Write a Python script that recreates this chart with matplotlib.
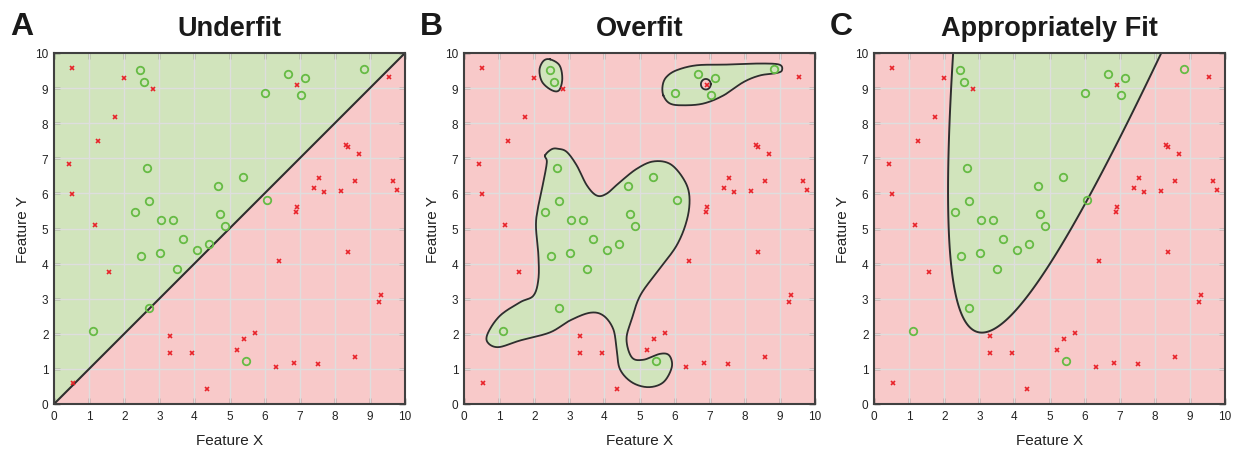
import numpy as np
import matplotlib
matplotlib.use("Agg")
import matplotlib.pyplot as plt

plt.rcParams['font.family'] = ['Liberation Sans', 'DejaVu Sans']

# ---------------- data ----------------
green_x = [2.45, 2.55, 2.65, 2.71, 2.31, 3.05, 3.40, 3.68, 4.07, 4.42, 3.02, 2.48, 3.51,
           2.71, 1.12, 5.48, 4.66, 5.38, 4.73, 4.88, 6.06, 6.01, 6.68, 7.15, 7.05, 8.84]
green_y = [9.52, 9.16, 6.73, 5.77, 5.47, 5.23, 5.23, 4.70, 4.40, 4.55, 4.31, 4.21, 3.85,
           2.74, 2.07, 1.23, 6.22, 6.48, 5.40, 5.07, 5.80, 8.86, 9.39, 9.30, 8.80, 9.54]

red_x = [0.50, 2.00, 2.83, 1.75, 1.25, 0.44, 0.50, 1.18, 1.57, 0.55, 3.31, 3.30, 3.94,
         4.37, 5.20, 5.42, 5.72, 6.33, 6.83, 7.53, 8.57, 6.41, 6.91, 6.93, 6.90, 7.41,
         7.54, 7.68, 8.18, 8.31, 8.39, 8.70, 8.58, 8.39, 9.25, 9.33, 9.53, 9.67, 9.78]
red_y = [9.58, 9.29, 8.98, 8.18, 7.49, 6.83, 5.99, 5.10, 3.76, 0.60, 1.94, 1.44, 1.44,
         0.44, 1.55, 1.86, 2.01, 1.04, 1.16, 1.13, 1.33, 4.07, 9.09, 5.61, 5.47, 6.15,
         6.45, 6.04, 6.07, 7.39, 7.32, 7.11, 6.36, 4.33, 2.92, 3.11, 9.32, 6.35, 6.09]

titles = ["Underfit", "Overfit", "Appropriately Fit"]
letters = ["A", "B", "C"]
ticks = list(range(0, 11))

# Overfit boundary (traced outline points)
blob_big_x = [2.31, 2.36, 2.26, 2.12, 2.05, 2.12, 2.12, 1.98, 1.60, 1.03, 0.69, 0.67, 0.98,
              1.60, 2.45, 3.02, 3.59, 3.97, 4.25, 4.35, 4.44, 4.78, 5.25, 5.68, 5.92, 5.85,
              5.59, 5.11, 4.78, 4.63, 4.78, 5.02, 5.49, 6.06, 6.36, 6.42, 6.25, 5.87, 5.39,
              4.92, 4.44, 4.06, 3.78, 3.50, 3.21, 2.93, 2.69, 2.50]
blob_big_y = [7.08, 6.89, 6.32, 5.66, 5.09, 4.23, 3.56, 3.09, 2.90, 2.52, 2.04, 1.76, 1.62,
              1.81, 2.04, 2.38, 2.60, 2.52, 2.14, 1.57, 1.00, 0.62, 0.48, 0.62, 1.05, 1.38,
              1.43, 1.26, 1.33, 1.85, 2.42, 3.09, 3.75, 4.52, 5.28, 5.94, 6.42, 6.84, 6.91,
              6.70, 6.32, 5.99, 5.94, 6.23, 6.80, 7.18, 7.27, 7.26]
blob_small_x = [2.45, 2.72, 2.80, 2.71, 2.50, 2.23, 2.15, 2.26]
blob_small_y = [9.82, 9.65, 9.27, 8.94, 8.94, 9.17, 9.51, 9.77]
blob_top_x = [5.68, 5.66, 5.77, 6.06, 6.63, 7.48, 8.43, 8.98, 9.06, 8.91, 8.43, 7.96, 7.39,
              6.82, 6.25, 5.87]
blob_top_y = [8.79, 9.08, 9.32, 9.51, 9.65, 9.67, 9.70, 9.67, 9.51, 9.43, 9.36, 9.17, 8.79,
              8.56, 8.51, 8.56]
hole_center = (6.89, 9.11)
hole_radius = (0.14, 0.15)

# Appropriate-fit boundary (traced points, fitted with a conic)
fit_x = [2.28, 2.18, 2.12, 2.09, 2.12, 2.21, 2.45, 2.74, 3.11, 3.49, 4.16, 5.11, 6.06, 6.82, 7.48, 8.24]
fit_y = [10.0, 8.98, 7.56, 5.99, 4.90, 3.85, 2.90, 2.33, 1.99, 2.06, 2.80, 4.13, 5.75, 7.27, 8.70, 10.0]

# ---------------- styles ----------------
GREEN_FILL = "#d1e4bc"
PINK_FILL = "#f8c9c9"
GREEN_PT = "#66bb44"
RED_PT = "#e8232a"
LINE = "#2e2e2e"
SPINE = "#404040"
GRID = "#dedede"


def catmull_closed(xs, ys, n=24):
    P = np.column_stack([xs, ys]).astype(float)
    N = len(P)
    t = np.linspace(0, 1, n, endpoint=False)[:, None]
    out = []
    for i in range(N):
        p0, p1, p2, p3 = P[i - 1], P[i], P[(i + 1) % N], P[(i + 2) % N]
        seg = 0.5 * ((2 * p1) + (-p0 + p2) * t + (2 * p0 - 5 * p1 + 4 * p2 - p3) * t ** 2
                     + (-p0 + 3 * p1 - 3 * p2 + p3) * t ** 3)
        out.append(seg)
    out = np.vstack(out)
    out = np.vstack([out, out[:1]])
    return out[:, 0], out[:, 1]


W, H = 1234, 452
fig = plt.figure(figsize=(W / 100, H / 100), dpi=100)
lefts = [54, 464, 874]
ax_w = 351
ax_h = 351
bottom = 47

for k in range(3):
    ax = fig.add_axes([lefts[k] / W, bottom / H, ax_w / W, ax_h / H])
    ax.set_xlim(0, 10)
    ax.set_ylim(0, 10)

    if k == 0:
        ax.set_facecolor(PINK_FILL)
        ax.fill([0, 0, 10], [0, 10, 10], color=GREEN_FILL, zorder=1, lw=0)
        ax.plot([0, 10], [0, 10], color=LINE, lw=1.5, zorder=3)
    elif k == 1:
        ax.set_facecolor(PINK_FILL)
        for bx, by in [(blob_big_x, blob_big_y), (blob_small_x, blob_small_y), (blob_top_x, blob_top_y)]:
            sx, sy = catmull_closed(bx, by)
            ax.fill(sx, sy, color=GREEN_FILL, zorder=1, lw=0)
            ax.plot(sx, sy, color=LINE, lw=1.3, zorder=3)
        th = np.linspace(0, 2 * np.pi, 100)
        hx = hole_center[0] + hole_radius[0] * np.cos(th)
        hy = hole_center[1] + hole_radius[1] * np.sin(th)
        ax.fill(hx, hy, color=PINK_FILL, zorder=1.2, lw=0)
        ax.plot(hx, hy, color=LINE, lw=1.3, zorder=3)
    else:
        fx = np.array(fit_x)
        fy = np.array(fit_y)
        A = np.column_stack([fx ** 2, fx * fy, fy ** 2, fx, fy, np.ones_like(fx)])
        _, _, vt = np.linalg.svd(A)
        c = vt[-1]
        gx, gy = np.meshgrid(np.linspace(0, 10, 600), np.linspace(0, 10, 600))
        F = c[0] * gx ** 2 + c[1] * gx * gy + c[2] * gy ** 2 + c[3] * gx + c[4] * gy + c[5]
        inside = c[0] * 16 + c[1] * 20 + c[2] * 25 + c[3] * 4 + c[4] * 5 + c[5]
        if inside < 0:
            F = -F
        ax.set_facecolor(PINK_FILL)
        ax.contourf(gx, gy, F, levels=[0, np.abs(F).max() + 1], colors=[GREEN_FILL], zorder=1)
        ax.contour(gx, gy, F, levels=[0], colors=[LINE], linewidths=1.4, zorder=3)

    for t in ticks[1:-1]:
        ax.axvline(t, color=GRID, lw=1.0, zorder=2)
        ax.axhline(t, color=GRID, lw=1.0, zorder=2)

    ax.plot(green_x, green_y, 'o', ms=5.4, mfc='none', mec=GREEN_PT, mew=1.3, zorder=4)
    ax.plot(red_x, red_y, 'x', ms=3.3, mec=RED_PT, mew=1.2, zorder=4)

    ax.set_xticks(ticks)
    ax.set_yticks(ticks)
    ax.tick_params(direction='in', top=True, right=True, length=4, width=1.0,
                   color=SPINE, labelsize=8.5, labelcolor="#222222", pad=4)
    for s in ax.spines.values():
        s.set_color(SPINE)
        s.set_linewidth(1.5)
        s.set_zorder(5)
    ax.set_xlabel("Feature X", fontsize=11, labelpad=8, color="#222222")
    ax.set_ylabel("Feature Y", fontsize=11, labelpad=4, color="#222222")
    ax.set_title(titles[k], fontsize=19.5, fontweight='bold', pad=13, color="#1a1a1a")
    fig.text((lefts[k] - 44) / W, (H - 35) / H, letters[k], fontsize=23, fontweight='bold',
             ha='left', va='baseline', color="#1a1a1a")

fig.savefig("out.png", dpi=100)
